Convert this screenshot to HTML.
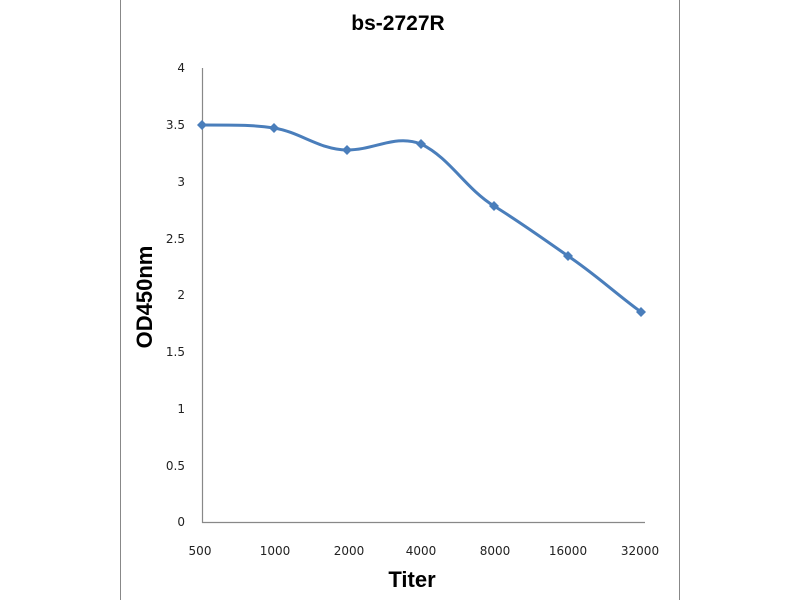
<!DOCTYPE html>
<html><head><style>body{margin:0;background:#fff}</style></head><body>
<svg width="800" height="600" xmlns="http://www.w3.org/2000/svg" font-family="'DejaVu Sans','Liberation Sans',sans-serif">
<rect width="800" height="600" fill="#fff"/>
<line x1="120.5" y1="0" x2="120.5" y2="600" stroke="#888" stroke-width="1"/>
<line x1="679.5" y1="0" x2="679.5" y2="600" stroke="#888" stroke-width="1"/>
<text x="398" y="30" font-size="21" font-weight="bold" text-anchor="middle" font-family="'Liberation Sans',sans-serif">bs-2727R</text>
<polyline points="202.5,68 202.5,522.5 645,522.5" fill="none" stroke="#888" stroke-width="1.2"/>
<g font-size="12" text-anchor="end" fill="#222">
<text x="185" y="72">4</text><text x="185" y="129">3.5</text><text x="185" y="186">3</text>
<text x="185" y="243">2.5</text><text x="185" y="299">2</text><text x="185" y="356">1.5</text>
<text x="185" y="413">1</text><text x="185" y="470">0.5</text><text x="185" y="526">0</text>
</g>
<g font-size="12" text-anchor="middle" fill="#222">
<text x="200" y="555">500</text><text x="275" y="555">1000</text><text x="349" y="555">2000</text>
<text x="421" y="555">4000</text><text x="495" y="555">8000</text><text x="568" y="555">16000</text><text x="640" y="555">32000</text>
</g>
<text x="412" y="587" font-size="22" font-weight="bold" text-anchor="middle" font-family="'Liberation Sans',sans-serif">Titer</text>
<text transform="translate(152,297) rotate(-90)" font-size="22" font-weight="bold" text-anchor="middle" font-family="'Liberation Sans',sans-serif">OD450nm</text>
<path d="M202,125 C240,125 255,125 274,128 C300,132 320,150 347,150 C375,150 395,134 421,144 C450,158 465,188 494,206 C520,222 545,240 568,256 C595,274 615,293 641,312" fill="none" stroke="#4a7ebb" stroke-width="3"/>
<g fill="#4a7ebb">
<path d="M202,120 l5,5 -5,5 -5,-5z"/><path d="M274,123 l5,5 -5,5 -5,-5z"/><path d="M347,145 l5,5 -5,5 -5,-5z"/>
<path d="M421,139 l5,5 -5,5 -5,-5z"/><path d="M494,201 l5,5 -5,5 -5,-5z"/><path d="M568,251 l5,5 -5,5 -5,-5z"/><path d="M641,307 l5,5 -5,5 -5,-5z"/>
</g>
</svg>
</body></html>
